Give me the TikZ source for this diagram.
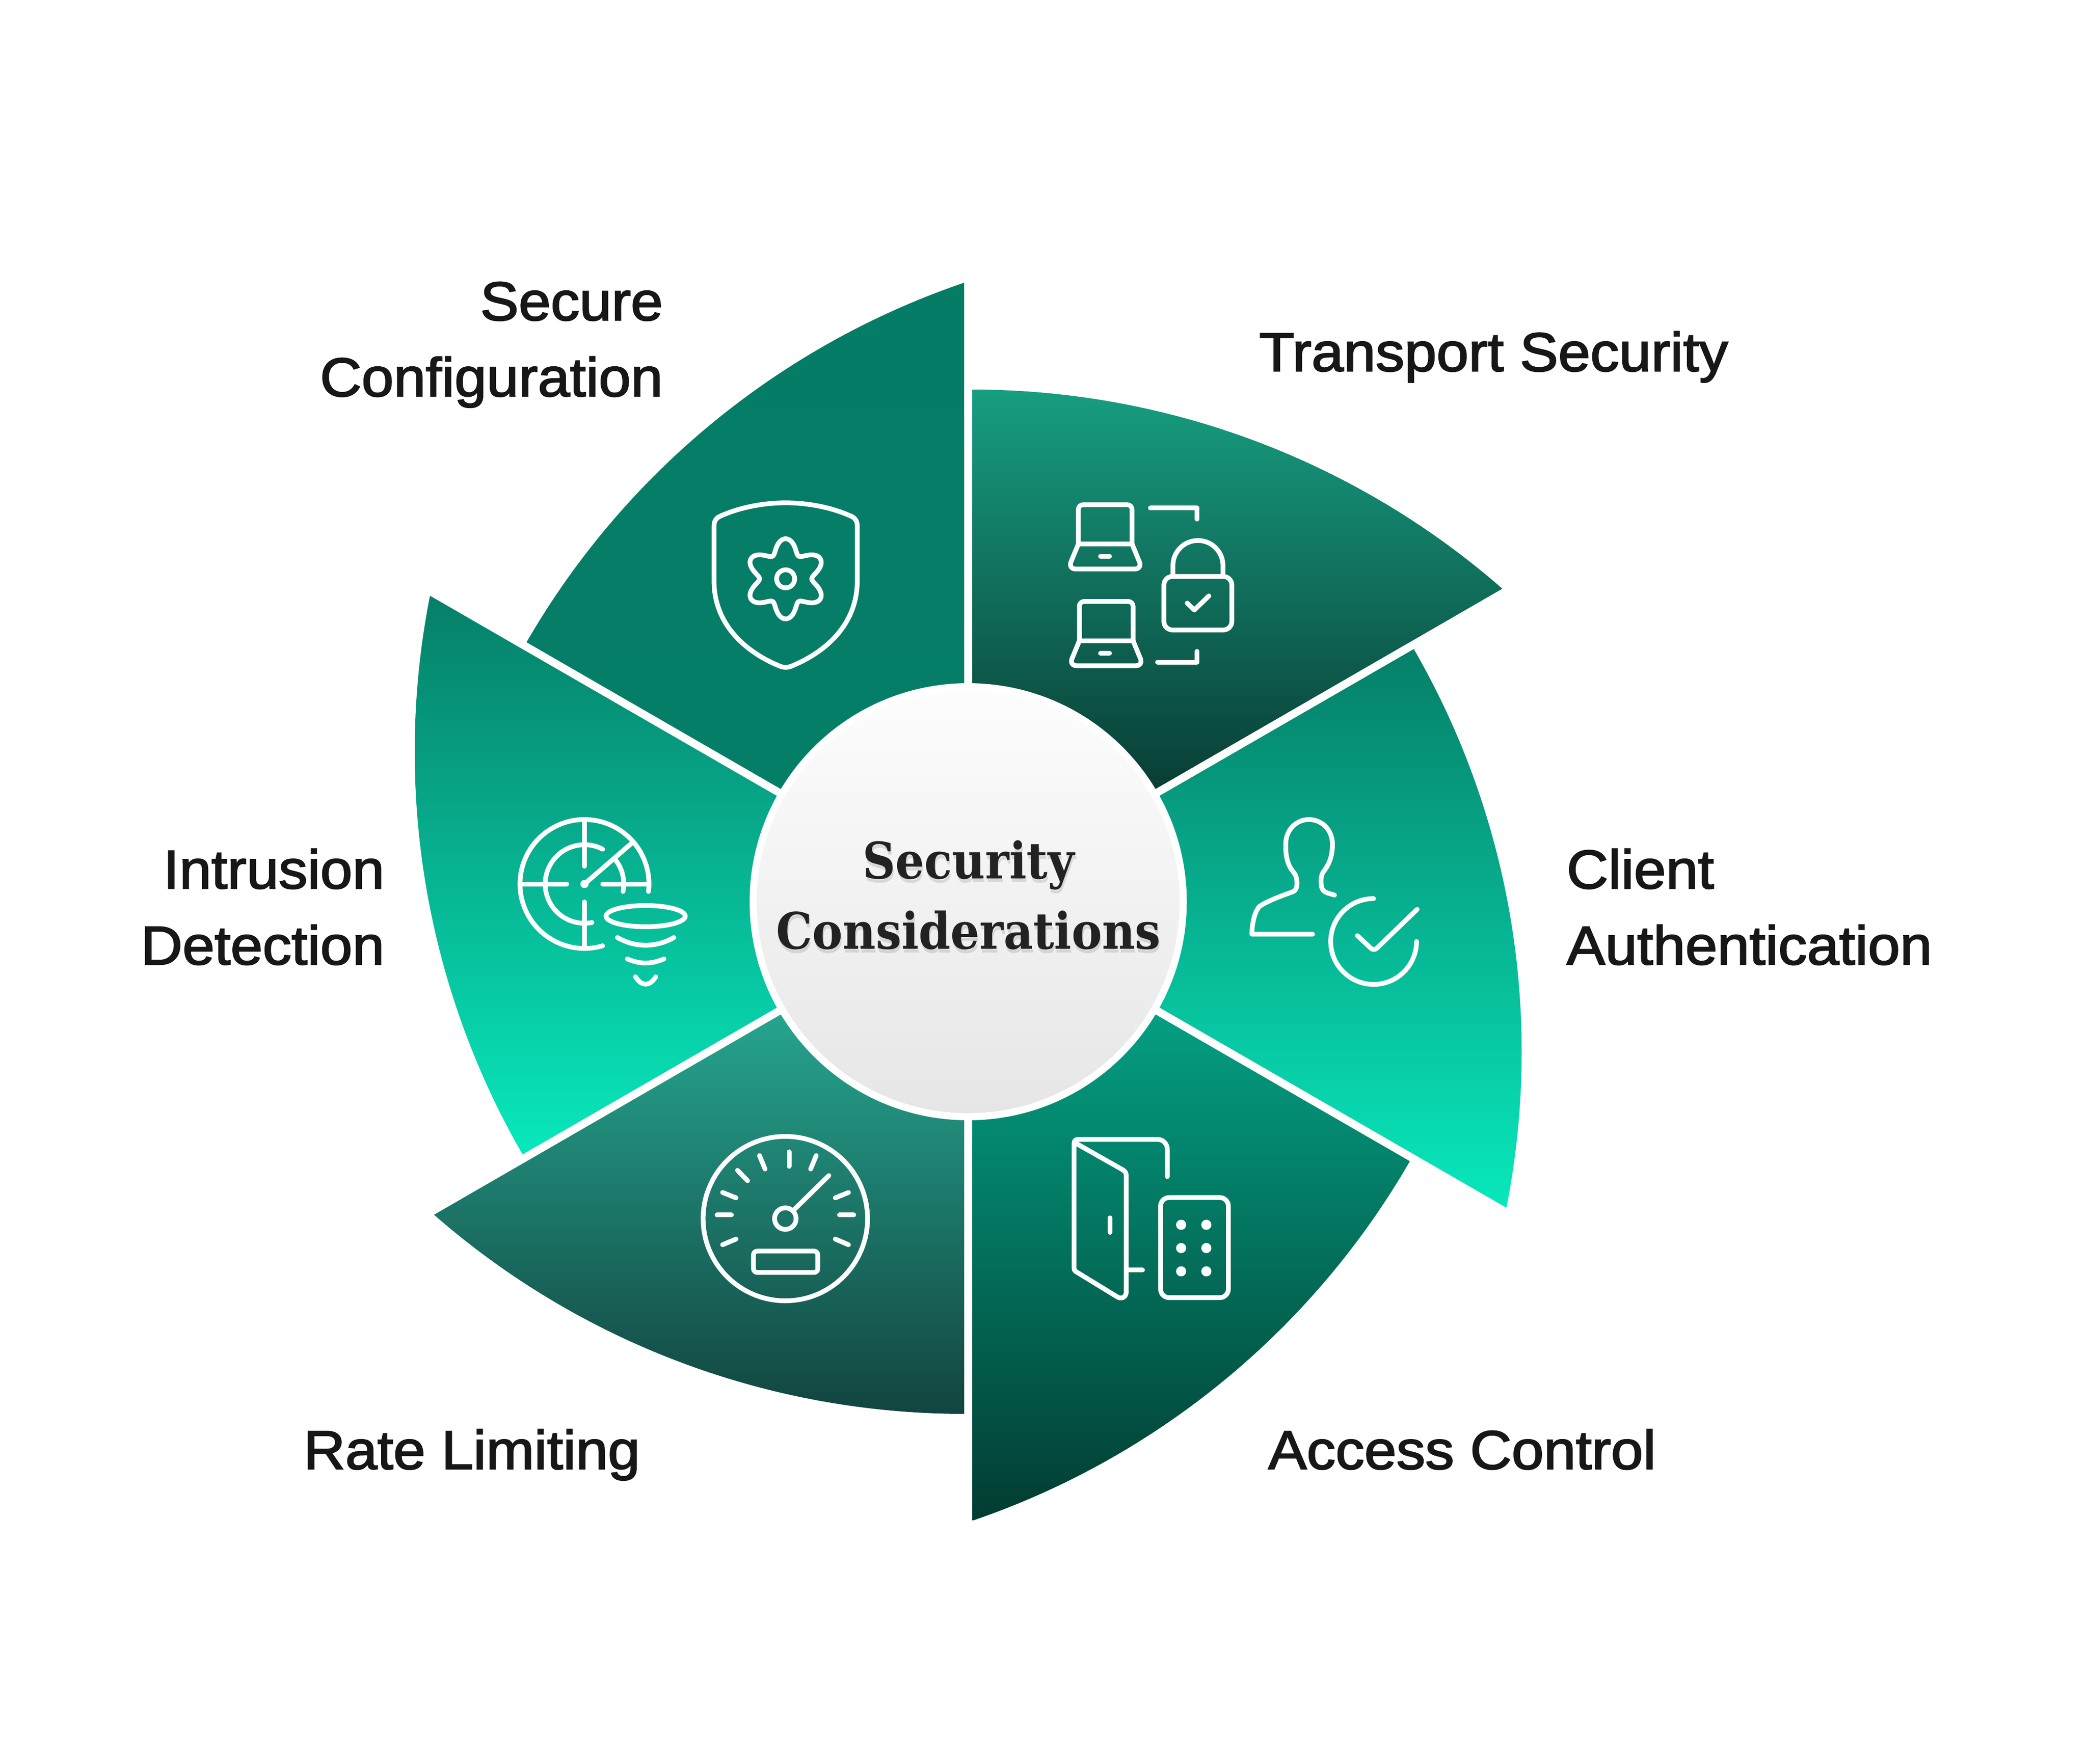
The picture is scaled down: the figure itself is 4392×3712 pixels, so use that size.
\documentclass[tikz,border=0pt]{standalone}
\usepackage{fontspec}
\newfontfamily\lblfont[FakeBold=2.2,FakeStretch=1.055]{Liberation Sans}
\newfontfamily\ttlfont[FakeStretch=0.905]{DejaVu Serif}
\definecolor{txt}{HTML}{171717}
\definecolor{ttlc}{HTML}{222222}
\definecolor{trT}{HTML}{179E81}\definecolor{trB}{HTML}{093D34}
\definecolor{clT}{HTML}{067F68}\definecolor{clB}{HTML}{08E8BC}
\definecolor{acT}{HTML}{049F82}\definecolor{acB}{HTML}{023C31}
\definecolor{raT}{HTML}{26A58F}\definecolor{raB}{HTML}{12443F}
\definecolor{seT}{HTML}{057C66}\definecolor{seB}{HTML}{057E68}
\definecolor{hubT}{HTML}{FDFDFD}\definecolor{hubB}{HTML}{E6E6E6}
\tikzset{
  ic/.style={draw=white,line width=5pt,line cap=round,line join=round},
  icfill/.style={fill=white,draw=none},
  lbl/.style={font=\lblfont\fontsize{57.5}{80}\selectfont,text=txt,inner sep=0pt,outer sep=0pt},
  ttl/.style={font=\ttlfont\bfseries\fontsize{53}{74}\selectfont,inner sep=0pt,outer sep=0pt,align=center,anchor=base}
}
\newcommand{\blade}[5]{%
  \begin{scope}
    \clip[shift={(2037.5,-1898)},rotate=#1] (8.3,14.4) -- (8.3,1078)
      arc[start angle=90,end angle=48.83,radius=1695] -- cycle;
    \shade[top color=#2,bottom color=#3] (0,-#4) rectangle (4392,-#5);
  \end{scope}}
\newcommand{\laptop}[2]{%
  \begin{scope}[shift={(#1,#2)}]
    \draw[ic,rounded corners=5pt] (208,-435) -- (208,-187) -- (547,-187) -- (547,-435);
    \draw[ic] (208,-435) -- (547,-435);
    \draw[ic,rounded corners=8pt] (208,-435) -- (143,-593) -- (612,-593) -- (547,-435);
  \end{scope}}
\begin{document}
\begin{tikzpicture}[x=0.5pt,y=0.5pt]
\useasboundingbox (0,0) rectangle (4392,-3712);
\fill[white] (0,0) rectangle (4392,-3712);
% blades: rotation (clockwise from the Transport blade), colours, vertical extent
\blade{0}{trT}{trB}{818}{1661}
\blade{-60}{clT}{clB}{1364}{2541}
\blade{-120}{acT}{acB}{2129}{3199}
\blade{-180}{raT}{raB}{2129}{2978}
\blade{-240}{clT}{clB}{1252}{2431}
\blade{-300}{seT}{seB}{594}{1661}
% hub
\fill[white] (2037.5,-1898) circle[radius=460];
\shade[top color=hubT,bottom color=hubB] (2037.5,-1898) circle[radius=445];
% Transport icon
\begin{scope}[shift={(2200,-1000)},scale=0.33333]
  \laptop{0}{0}
  \laptop{6.5}{-611}
  \draw[ic] (348,-514) -- (405,-514);
  \draw[ic] (348,-1125) -- (405,-1125);
  \draw[ic] (663,-208) -- (958,-208) -- (958,-278);
  \draw[ic] (708,-1181) -- (958,-1181) -- (958,-1113);
  \draw[ic,rounded corners=9pt] (748,-640) rectangle (1177,-978);
  \draw[ic] (805,-640) -- (805,-571) arc[start angle=180,end angle=0,radius=158] -- (1121,-640);
  \draw[ic] (895,-808) -- (940,-852) -- (1032,-763);
\end{scope}
% Shield icon
\begin{scope}[shift={(1450,-1010)},scale=0.33333]
  \draw[ic] (158,-290) .. controls (158,-262) and (170,-240) .. (200,-228)
    .. controls (330,-170) and (480,-145) .. (610,-145)
    .. controls (740,-145) and (890,-170) .. (1020,-228)
    .. controls (1050,-240) and (1062,-262) .. (1062,-290)
    -- (1062,-640) .. controls (1062,-900) and (880,-1080) .. (650,-1175)
    .. controls (625,-1187) and (595,-1187) .. (570,-1175)
    .. controls (340,-1080) and (158,-900) .. (158,-640) -- cycle;
  \draw[ic,shift={(610,-625)}] plot[domain=0:360,samples=181,smooth]
    ({(211+44*cos(6*\x-540)-2*cos(12*\x))*cos(\x)},{(211+44*cos(6*\x-540)-2*cos(12*\x))*sin(\x)}) -- cycle;
  \draw[ic] (610,-625) circle[radius=57];
\end{scope}
% Radar icon
\begin{scope}[shift={(1060,-1690)},scale=0.33333]
  \draw[ic] (510,-512) ++(-6.7:407) arc[start angle=-6.7,end angle=286.4,radius=407];
  \draw[ic] (510,-512) ++(62.4:248) arc[start angle=62.4,end angle=281,radius=248];
  \draw[ic] (510,-512) ++(38:248) arc[start angle=38,end angle=-11,radius=248];
  \draw[ic] (510,-105) -- (510,-400);
  \draw[ic] (510,-625) -- (510,-918);
  \draw[ic] (105,-512) -- (398,-512);
  \draw[ic] (625,-512) -- (918,-512);
  \draw[ic] (510,-512) -- (815,-248);
  \fill[icfill] (510,-512) circle[radius=26];
  \draw[ic] (896,-715) ellipse[x radius=250,y radius=67];
  \draw[ic] (718,-850) .. controls (830,-915) and (960,-915) .. (1075,-850);
  \draw[ic] (780,-985) .. controls (860,-1020) and (930,-1020) .. (1012,-985);
  \draw[ic] (832,-1098) .. controls (870,-1160) and (922,-1160) .. (960,-1098);
\end{scope}
% Person icon
\begin{scope}[shift={(2600,-1690)},scale=0.33333]
  \draw[ic] (487,-829) -- (103,-829) .. controls (105,-760) and (120,-690) .. (150,-655)
    .. controls (190,-625) and (280,-590) .. (365,-560)
    .. controls (395,-545) and (392,-490) .. (380,-460)
    .. controls (370,-435) and (350,-425) .. (335,-385)
    .. controls (318,-340) and (316,-300) .. (318,-250)
    .. controls (320,-170) and (385,-105) .. (463,-105)
    .. controls (545,-105) and (612,-170) .. (612,-260)
    .. controls (612,-340) and (590,-390) .. (555,-435)
    .. controls (540,-455) and (538,-490) .. (542,-520)
    .. controls (545,-550) and (560,-560) .. (575,-567) -- (625,-582);
  \draw[ic] (872,-604) arc[start angle=90,end angle=360,radius=271];
  \draw[ic] (769,-838) -- (855,-918) .. controls (865,-928) and (882,-928) .. (892,-918) -- (1147,-672);
\end{scope}
% Door icon
\begin{scope}[shift={(2220,-2370)},scale=0.33333]
  \draw[ic] (125,-105) -- (425,-275) .. controls (440,-283) and (450,-295) .. (450,-310)
    -- (450,-1050) .. controls (450,-1080) and (420,-1095) .. (395,-1080)
    -- (130,-918) .. controls (122,-912) and (121,-905) .. (121,-895)
    -- (121,-110) .. controls (121,-95) and (130,-85) .. (145,-85)
    -- (650,-85) .. controls (685,-85) and (710,-115) .. (710,-150) -- (710,-320);
  \draw[ic] (348,-580) -- (348,-672);
  \draw[ic] (450,-910) -- (553,-910);
  \draw[ic,rounded corners=9pt] (667,-452) rectangle (1095,-1084);
  \foreach \dx in {797,956} \foreach \dy in {624,771,918}
    \fill[icfill] (\dx,-\dy) circle[radius=32];
\end{scope}
% Gauge icon
\begin{scope}[shift={(1450,-2370)},scale=0.33333]
  \draw[ic] (608,-585) circle[radius=519];
  \draw[ic] (608,-585) circle[radius=68];
  \draw[ic] (665,-527) -- (883,-313);
  \draw[ic] (177,-562) -- (268,-562);
  \draw[ic] (950,-562) -- (1040,-562);
  \draw[ic] (632,-163) -- (632,-255);
  \draw[ic] (445,-187) -- (480,-272);
  \draw[ic] (803,-187) -- (768,-272);
  \draw[ic] (306,-280) -- (370,-346);
  \draw[ic] (212,-420) -- (297,-454);
  \draw[ic] (1007,-420) -- (923,-454);
  \draw[ic] (212,-750) -- (297,-714);
  \draw[ic] (1007,-750) -- (923,-714);
  \draw[ic,rounded corners=4pt] (407,-790) rectangle (813,-925);
\end{scope}
% labels
\node[lbl,align=right,anchor=base east] (secure) at (1395,-834) {Secure\\Configuration};
\node[lbl,anchor=base west] (transport) at (2650,-781) {Transport Security};
\node[lbl,align=left,anchor=base west] (client) at (3297,-2030) {Client\\Authentication};
\node[lbl,anchor=base west] (access) at (2669,-3092) {Access Control};
\node[lbl,anchor=base west] (rate) at (639,-3092) {Rate Limiting};
\node[lbl,align=right,anchor=base east] (intrusion) at (809,-2030) {Intrusion\\Detection};
% centre title with soft shadow
\node[ttl,text=black,opacity=0.11] (shadowa) at (2040,-2005) {Security\\Considerations};
\node[ttl,text=ttlc] (title) at (2038,-1997) {Security\\Considerations};
\end{tikzpicture}
\end{document}
